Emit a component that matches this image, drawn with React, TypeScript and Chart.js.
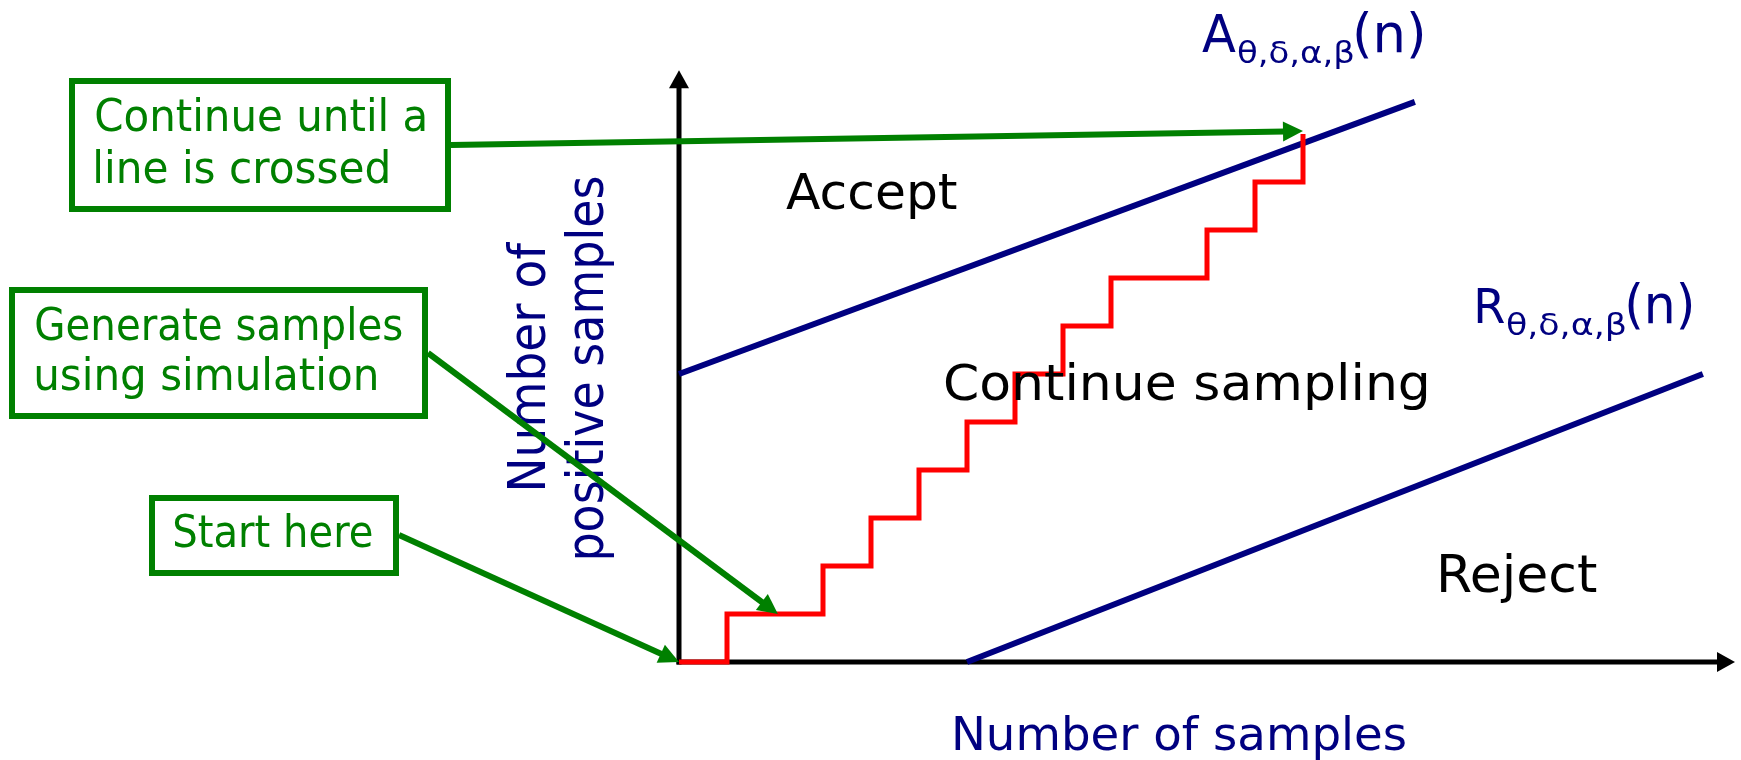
import React, { useEffect, useRef } from "react";
import { Chart, registerables } from "chart.js";

Chart.register(...registerables);

// ---- Data (in "samples" / "positive samples" units) ----
const stairN = [0, 1, 3, 4, 5, 6, 7, 8, 9, 11, 12, 13];
const stairPositives = [0, 1, 2, 3, 4, 5, 6, 7, 8, 9, 10, 11];
const acceptN = [0, 15.33];
const acceptBound = [6, 11.67];
const rejectN = [6, 21.33];
const rejectBound = [0, 6];
const xRange = [0, 22];
const yRange = [0, 12.5];
const axisTipX = 22;
const axisTipY = 12.33;

const regionLabels = ["Accept", "Continue sampling", "Reject"];
const xTitle = "Number of samples";
const yTitleLines = ["Number of", "positive samples"];
const callouts = [
  ["Continue until a", "line is crossed"],
  ["Generate samples", "using simulation"],
  ["Start here"],
];
const calloutTargets = [
  [13, 11.06],
  [2.06, 1],
  [0, 0],
];
const boundNames = ["A", "R"];
const boundSub = "θ,δ,α,β";
const boundArg = "(n)";

const GREEN = "#008000";
const NAVY = "#000080";
const FONT = "DejaVu Sans";

function fitText(
  ctx: CanvasRenderingContext2D,
  text: string,
  x: number,
  y: number,
  width: number,
  size: number,
  color: string,
  rotate = false
) {
  ctx.save();
  ctx.font = `${size}px "${FONT}"`;
  ctx.fillStyle = color;
  ctx.textAlign = "left";
  ctx.textBaseline = "alphabetic";
  const m = ctx.measureText(text);
  const inkW = m.actualBoundingBoxRight + m.actualBoundingBoxLeft;
  const s = width / inkW;
  ctx.translate(x, y);
  if (rotate) ctx.rotate(-Math.PI / 2);
  ctx.scale(s, 1);
  ctx.fillText(text, m.actualBoundingBoxLeft, 0);
  ctx.restore();
}

function arrow(
  ctx: CanvasRenderingContext2D,
  x1: number,
  y1: number,
  x2: number,
  y2: number,
  color: string,
  lw: number,
  headLen: number,
  headHalf: number
) {
  const dx = x2 - x1;
  const dy = y2 - y1;
  const L = Math.hypot(dx, dy);
  const ux = dx / L;
  const uy = dy / L;
  const bx = x2 - ux * headLen;
  const by = y2 - uy * headLen;
  ctx.save();
  ctx.strokeStyle = color;
  ctx.fillStyle = color;
  ctx.lineWidth = lw;
  ctx.lineCap = "butt";
  ctx.beginPath();
  ctx.moveTo(x1, y1);
  ctx.lineTo(bx + ux * 2, by + uy * 2);
  ctx.stroke();
  ctx.beginPath();
  ctx.moveTo(x2, y2);
  ctx.lineTo(bx - uy * headHalf, by + ux * headHalf);
  ctx.lineTo(bx + uy * headHalf, by - ux * headHalf);
  ctx.closePath();
  ctx.fill();
  ctx.restore();
}

const axesPlugin = {
  id: "diagramAxes",
  beforeDatasetsDraw(chart: any) {
    const ctx: CanvasRenderingContext2D = chart.ctx;
    const xs = chart.scales.x;
    const ys = chart.scales.y;
    const ox = xs.getPixelForValue(0);
    const oy = ys.getPixelForValue(0);
    const tx = xs.getPixelForValue(axisTipX);
    const ty = ys.getPixelForValue(axisTipY);
    ctx.save();
    ctx.fillStyle = "#fff";
    ctx.fillRect(0, 0, chart.width, chart.height);
    ctx.restore();
    arrow(ctx, ox, oy + 2.5, ox, ty, "#000", 5, 18, 10);
    arrow(ctx, ox - 2.5, oy, tx, oy, "#000", 5, 18, 10);
  },
  afterDatasetsDraw(chart: any) {
    const ctx: CanvasRenderingContext2D = chart.ctx;
    const xs = chart.scales.x;
    const ys = chart.scales.y;

    // region labels
    fitText(ctx, regionLabels[0], 786, 209, 171, 50, "#000");
    fitText(ctx, regionLabels[1], 945, 400, 482, 50, "#000");
    fitText(ctx, regionLabels[2], 1441, 592, 156, 52, "#000");

    // axis titles
    fitText(ctx, xTitle, 955, 750, 450, 46, NAVY);
    fitText(ctx, yTitleLines[0], 545, 488, 246, 51, NAVY, true);
    fitText(ctx, yTitleLines[1], 603, 558, 381, 51, NAVY, true);

    // boundary labels
    fitText(ctx, boundNames[0], 1202, 52, 34, 51, NAVY);
    fitText(ctx, boundSub, 1238, 63, 115, 31, NAVY);
    fitText(ctx, boundArg, 1356, 52, 67, 53, NAVY);
    fitText(ctx, boundNames[1], 1477, 323, 27, 48, NAVY);
    fitText(ctx, boundSub, 1507, 335, 118, 31, NAVY);
    fitText(ctx, boundArg, 1628, 323, 64, 53, NAVY);

    // callout boxes
    const boxes = [
      { x: 72, y: 81, w: 376, h: 128, tx: 96, base: [131, 183], widths: [329, 292], ax: 451, ay: 145 },
      { x: 12, y: 290, w: 413, h: 126, tx: 36, base: [340, 390], widths: [366, 340], ax: 428, ay: 353 },
      { x: 152, y: 498, w: 244, h: 75, tx: 174, base: [547], widths: [198], ax: 399, ay: 535 },
    ];
    boxes.forEach((b, i) => {
      ctx.save();
      ctx.strokeStyle = GREEN;
      ctx.lineWidth = 6;
      ctx.lineJoin = "miter";
      ctx.strokeRect(b.x, b.y, b.w, b.h);
      ctx.restore();
      callouts[i].forEach((line, j) => {
        fitText(ctx, line, b.tx, b.base[j], b.widths[j], 45, GREEN);
      });
      const t = calloutTargets[i];
      arrow(
        ctx,
        b.ax,
        b.ay,
        xs.getPixelForValue(t[0]),
        ys.getPixelForValue(t[1]),
        GREEN,
        6,
        20,
        10
      );
    });
  },
};

export default function App() {
  const ref = useRef<HTMLCanvasElement>(null);
  useEffect(() => {
    if (!ref.current) return;
    const chart = new Chart(ref.current, {
      type: "line",
      data: {
        datasets: [
          {
            label: "Samples",
            data: stairN.map((n, i) => ({ x: n, y: stairPositives[i] })),
            stepped: "before",
            borderColor: "#ff0000",
            borderWidth: 5,
            borderJoinStyle: "miter",
            pointRadius: 0,
            fill: false,
            clip: false,
          } as any,
          {
            label: "Accept",
            data: acceptN.map((n, i) => ({ x: n, y: acceptBound[i] })),
            borderColor: NAVY,
            borderWidth: 6,
            pointRadius: 0,
            fill: false,
            clip: false,
          } as any,
          {
            label: "Reject",
            data: rejectN.map((n, i) => ({ x: n, y: rejectBound[i] })),
            borderColor: NAVY,
            borderWidth: 6,
            pointRadius: 0,
            fill: false,
            clip: false,
          } as any,
        ],
      },
      options: {
        animation: false,
        responsive: false,
        devicePixelRatio: 1,
        layout: { padding: { left: 679, right: 6, top: 62, bottom: 98 } },
        plugins: { legend: { display: false }, tooltip: { enabled: false }, title: { display: false } },
        events: [],
        scales: {
          x: { type: "linear", min: xRange[0], max: xRange[1], display: false },
          y: { type: "linear", min: yRange[0], max: yRange[1], display: false },
        },
      },
      plugins: [axesPlugin],
    });
    return () => chart.destroy();
  }, []);
  return (
    <div style={{ position: "absolute", left: 0, top: 0, width: 1741, height: 760, background: "#fff" }}>
      <canvas ref={ref} width={1741} height={760} style={{ display: "block" }} />
    </div>
  );
}
